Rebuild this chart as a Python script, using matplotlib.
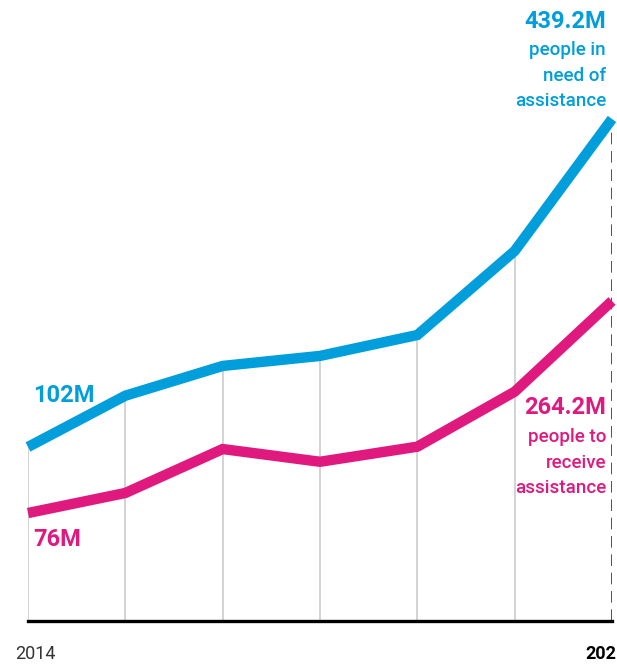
import matplotlib.pyplot as plt

plt.rcParams['font.family'] = ['Roboto', 'DejaVu Sans']

# data
years = [2014, 2015, 2016, 2017, 2018, 2019, 2020]
in_need = [102, 154.7, 185.3, 195.6, 217.1, 303.5, 439.2]      # millions
to_receive = [76, 93.8, 132.8, 121.5, 134.9, 183.7, 264.2]     # millions
first_label = "2014"
last_label = "202"

blue = "#009EDB"
pink = "#E0197F"

W, H = 617, 664
fig = plt.figure(figsize=(W / 100, H / 100), dpi=100)

# axes placed so the first/last year sit at the ends of the baseline
ax = fig.add_axes([28 / W, (H - 620.5) / H, (612 - 28) / W, 620.5 / H])
ax2 = ax.twinx()
for a in (ax, ax2):
    a.set_xlim(years[0], years[-1])
    a.set_xticks([])
    a.set_yticks([])
    for s in a.spines.values():
        s.set_visible(False)
    a.patch.set_visible(False)

# each series has its own illustrative scale
ax.set_ylim(-76.4, 561.5)
ax2.set_ylim(-19.4, 531.4)
ybot = ax.get_ylim()[0]

# grey drop lines from the blue line to the baseline, dashed for the last year
ax.vlines(years[:-1], ybot, in_need[:-1], color="#C8C8C8", lw=1.1, zorder=1)
ax.vlines(years[-1], ybot, in_need[-1], color="#333333", lw=1.2,
          linestyles=(0, (7, 4)), zorder=1)
ax.axhline(ybot, color="black", lw=2.4, zorder=2, clip_on=False)

ax.plot(years, in_need, color=blue, lw=7.5, solid_joinstyle="miter",
        solid_capstyle="butt", zorder=3, clip_on=False)
ax2.plot(years, to_receive, color=pink, lw=7.5, solid_joinstyle="miter",
         solid_capstyle="butt", zorder=3, clip_on=False)

def px(x, y):
    return x / W, 1 - y / H

# labels
fig.text(*px(33, 395), f"{in_need[0]:g}M", color=blue, fontsize=17,
         fontweight="bold", ha="left", va="center")
fig.text(*px(33, 540), f"{to_receive[0]:g}M", color=pink, fontsize=17,
         fontweight="bold", ha="left", va="center")
fig.text(*px(606, 22), f"{in_need[-1]:g}M", color=blue, fontsize=17,
         fontweight="bold", ha="right", va="center")
fig.text(*px(606, 41), "people in\nneed of\nassistance", color=blue,
         fontsize=13.5, fontweight="medium", ha="right", va="top",
         multialignment="right", linespacing=1.55)
fig.text(*px(606, 428), "people to\nreceive\nassistance", color=pink,
         fontsize=13.5, fontweight="medium", ha="right", va="top",
         multialignment="right", linespacing=1.55)
fig.text(*px(606, 408), f"{to_receive[-1]:g}M", color=pink, fontsize=17,
         fontweight="bold", ha="right", va="center")

fig.text(*px(15, 654), first_label, color="#333333", fontsize=13,
         ha="left", va="center")
fig.text(*px(616, 654), last_label, color="black", fontsize=13,
         fontweight="bold", ha="right", va="center")

fig.savefig("out.png", dpi=100)
